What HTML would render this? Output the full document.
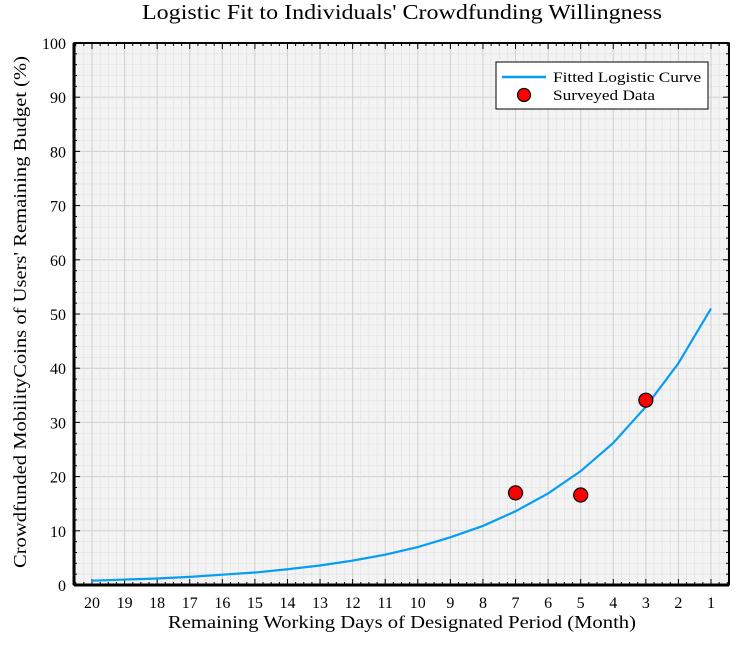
<!DOCTYPE html>
<html><head><meta charset="utf-8"><style>
body{margin:0;background:#fff;}
svg text{font-family:"Liberation Serif","DejaVu Serif",serif;fill:#000;}
</style></head><body>
<svg width="750" height="650" viewBox="0 0 750 650">
<g id="root"></g>
</svg>
<script>
const xCategories=[20,19,18,17,16,15,14,13,12,11,10,9,8,7,6,5,4,3,2,1];
const curveValues=[0.8,1.0,1.2,1.5,1.9,2.3,2.9,3.6,4.5,5.6,7.0,8.8,10.9,13.6,16.9,21.0,26.2,32.9,40.9,51.0];
const surveyDays=[7,5,3];
const surveyValues=[17.0,16.6,34.1];
const yTicks=[0,10,20,30,40,50,60,70,80,90,100];

const L=74,R=729,T=43,B=585;
const x=d=>92+(20-d)*(711-92)/19;
const y=v=>B-(v/100)*(B-T);
const NS="http://www.w3.org/2000/svg";
const root=document.getElementById('root');
function mk(tag,attrs,parent){const e=document.createElementNS(NS,tag);for(const k in attrs)e.setAttribute(k,attrs[k]);(parent||root).appendChild(e);return e;}

const bg=mk('rect',{x:L,y:T,width:R-L,height:B-T,fill:'#f3f3f3'});


const grid=mk('g',{});


for(let v=0;v<=100;v+=2){mk('line',{x1:L,x2:R,y1:y(v),y2:y(v),stroke:v%10==0?'#cfcfcf':'#e2e2e2','stroke-width':v%10==0?1:0.7},grid);}
for(let d=20.75;d>=0.5;d-=0.25){const xx=x(d);if(xx<L||xx>R)continue;const maj=Math.abs(d-Math.round(d))<1e-6;
mk('line',{x1:xx,x2:xx,y1:T,y2:B,stroke:maj?'#cfcfcf':'#e2e2e2','stroke-width':maj?1:0.7},grid);
mk('line',{x1:xx,x2:xx,y1:B,y2:B-(maj?6:3),stroke:'#000','stroke-width':1},grid);
mk('line',{x1:xx,x2:xx,y1:T,y2:T+(maj?6:3),stroke:'#000','stroke-width':1},grid);}
for(let v=0;v<=100;v+=2){const maj=v%10==0;
mk('line',{x1:L,x2:L+(maj?6:3),y1:y(v),y2:y(v),stroke:'#000'},grid);
mk('line',{x1:R,x2:R-(maj?6:3),y1:y(v),y2:y(v),stroke:'#000'},grid);}

const frame=mk('rect',{x:L,y:T,width:R-L,height:B-T,fill:'none',stroke:'#000','stroke-width':1.5});


mk('line',{x1:L,x2:L,y1:T,y2:B,stroke:'#000','stroke-width':3});
mk('line',{x1:L,x2:R,y1:B,y2:B,stroke:'#000','stroke-width':3});
mk('line',{x1:R,x2:R,y1:T,y2:B,stroke:'#000','stroke-width':2});
mk('line',{x1:L,x2:R,y1:T,y2:T,stroke:'#000','stroke-width':2});

yTicks.forEach(v=>{const t=mk('text',{x:L-8,y:y(v)+6,'text-anchor':'end','font-size':16});t.textContent=v;
});
xCategories.forEach(d=>{const t=mk('text',{x:x(d),y:608,'text-anchor':'middle','font-size':16});t.textContent=d;
});

const line=mk('polyline',{points:xCategories.map((d,i)=>x(d)+','+y(curveValues[i])).join(' '),fill:'none',stroke:'#069ef3','stroke-width':2.2});


surveyDays.forEach((d,i)=>{const c=mk('circle',{cx:x(d),cy:y(surveyValues[i]),r:7,fill:'#f00',stroke:'#000','stroke-width':1.2});
});

const title=mk('text',{x:142,y:19,'font-size':21,textLength:520,lengthAdjust:'spacingAndGlyphs'});title.textContent="Logistic Fit to Individuals' Crowdfunding Willingness";

const xt=mk('text',{x:168,y:628,'font-size':18,textLength:468,lengthAdjust:'spacingAndGlyphs'});xt.textContent="Remaining Working Days of Designated Period (Month)";

const yt=mk('text',{x:0,y:0,'font-size':18,textLength:512,lengthAdjust:'spacingAndGlyphs',transform:'translate(26,568) rotate(-90)'});yt.textContent="Crowdfunded MobilityCoins of Users' Remaining Budget (%)";


const lg=mk('g',{});


mk('rect',{x:496,y:62,width:212,height:47,fill:'#fff',stroke:'#000','stroke-width':1},lg);
mk('line',{x1:502,x2:546,y1:77,y2:77,stroke:'#069ef3','stroke-width':2.5},lg);
const l1=mk('text',{x:553,y:82,'font-size':15,textLength:148,lengthAdjust:'spacingAndGlyphs'},lg);l1.textContent="Fitted Logistic Curve";

mk('circle',{cx:524,cy:95,r:6.5,fill:'#f00',stroke:'#000','stroke-width':1.2},lg);
const l2=mk('text',{x:553,y:100,'font-size':15,textLength:102,lengthAdjust:'spacingAndGlyphs'},lg);l2.textContent="Surveyed Data";

</script>
</body></html>
